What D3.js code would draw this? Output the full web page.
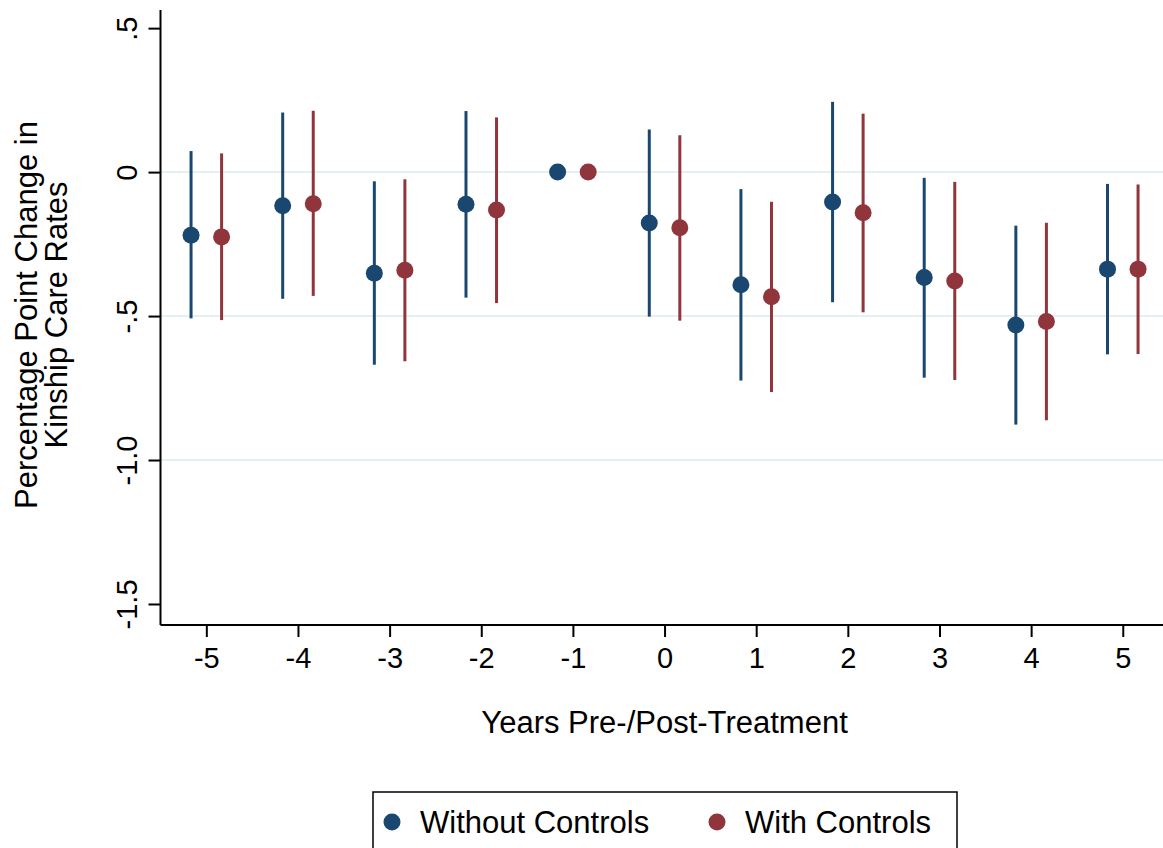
<!DOCTYPE html>
<html lang="en">
<head>
<meta charset="UTF-8">
<title>Kinship care event study</title>
<script src="https://d3js.org/d3.v7.min.js"></script>
<style>
  body {
    margin: 0;
    background: #fff;
  }
  svg text {
    font-family: "Liberation Sans", Arial, Helvetica, sans-serif;
    fill: #000;
  }
  .axis path, .axis line {
    stroke: #000;
    stroke-width: 2;
  }
</style>
</head>
<body>
<div id="chart"></div>

<script>
// ------ data ------
const years = [-5, -4, -3, -2, -1, 0, 1, 2, 3, 4, 5];
const seriesNames = ["Without Controls", "With Controls"];
const seriesColors = ["#1a476f", "#90353b"];

// without controls
const estNoCtrl = [-0.219, -0.117, -0.351, -0.112, 0, -0.177, -0.391, -0.104, -0.366, -0.531, -0.337];
const hiNoCtrl  = [0.073, 0.207, -0.032, 0.212, null, 0.148, -0.059, 0.244, -0.020, -0.186, -0.041];
const loNoCtrl  = [-0.508, -0.440, -0.669, -0.436, null, -0.502, -0.724, -0.452, -0.714, -0.877, -0.633];

// with controls
const estCtrl = [-0.225, -0.110, -0.341, -0.132, 0, -0.193, -0.433, -0.141, -0.378, -0.519, -0.337];
const hiCtrl  = [0.065, 0.213, -0.025, 0.190, null, 0.128, -0.103, 0.203, -0.034, -0.176, -0.043];
const loCtrl  = [-0.514, -0.430, -0.657, -0.455, null, -0.516, -0.764, -0.487, -0.722, -0.862, -0.632];

const yTickValues = [0.5, 0, -0.5, -1, -1.5];
const yTickLabels = [".5", "0", "-.5", "-1.0", "-1.5"];
const gridValues = [0, -0.5, -1];

const xTitle = "Years Pre-/Post-Treatment";
const yTitle = ["Percentage Point Change in", "Kinship Care Rates"];

// ------ chart ------
const width = 1163, height = 848;

const x = d3.scaleLinear().domain([-5.5, 5.5]).range([160.5, 1168.6]);
const y = d3.scaleLinear().domain([-1.573, 0.563]).range([625, 10]);
const offset = 1 / 6; // dodge between the two series

const svg = d3.select("#chart")
  .append("svg")
    .attr("width", width)
    .attr("height", height);

// gridlines
svg.append("g")
  .selectAll("line")
  .data(gridValues)
  .join("line")
    .attr("x1", x.range()[0])
    .attr("x2", x.range()[1])
    .attr("y1", d => y(d))
    .attr("y2", d => y(d))
    .attr("stroke", "#e6eff1")
    .attr("stroke-width", 2);

// series table built from the arrays
const series = [
  { name: seriesNames[0], color: seriesColors[0], shift: -offset,
    rows: years.map((yr, i) => ({ yr, est: estNoCtrl[i], lo: loNoCtrl[i], hi: hiNoCtrl[i] })) },
  { name: seriesNames[1], color: seriesColors[1], shift: offset,
    rows: years.map((yr, i) => ({ yr, est: estCtrl[i], lo: loCtrl[i], hi: hiCtrl[i] })) }
];

const g = svg.append("g")
  .selectAll("g")
  .data(series)
  .join("g");

g.selectAll("line")
  .data(s => s.rows.filter(r => r.lo !== null).map(r => ({ ...r, s })))
  .join("line")
    .attr("x1", d => x(d.yr + d.s.shift))
    .attr("x2", d => x(d.yr + d.s.shift))
    .attr("y1", d => y(d.lo))
    .attr("y2", d => y(d.hi))
    .attr("stroke", d => d.s.color)
    .attr("stroke-width", 3);

g.selectAll("circle")
  .data(s => s.rows.map(r => ({ ...r, s })))
  .join("circle")
    .attr("cx", d => x(d.yr + d.s.shift))
    .attr("cy", d => y(d.est))
    .attr("r", 8.5)
    .attr("fill", d => d.s.color);

// axes
const yAxis = svg.append("g")
  .attr("class", "axis")
  .attr("transform", `translate(${x.range()[0]},0)`)
  .call(d3.axisLeft(y)
    .tickValues(yTickValues)
    .tickFormat((d, i) => yTickLabels[i])
    .tickSize(12)
    .tickSizeOuter(0));

yAxis.selectAll("text")
  .attr("x", null)
  .attr("dy", null)
  .attr("text-anchor", "middle")
  .attr("transform", "translate(-24,0) rotate(-90)")
  .style("font-size", "29px");

const xAxis = svg.append("g")
  .attr("class", "axis")
  .attr("transform", `translate(0,${y.range()[0]})`)
  .call(d3.axisBottom(x)
    .tickValues(years)
    .tickFormat(d => String(d))   // plain hyphen, like the original
    .tickSize(12)
    .tickPadding(10)
    .tickSizeOuter(0));

xAxis.selectAll("text")
  .style("font-size", "29px");

xAxis.select(".domain").attr("d", `M${x.range()[0]},0H${x.range()[1]}`);
yAxis.select(".domain").attr("d", `M0,${y.range()[0]}V${y.range()[1]}`);

// titles
svg.append("text")
  .attr("x", (x.range()[0] + x.range()[1]) / 2)
  .attr("y", 733)
  .attr("text-anchor", "middle")
  .style("font-size", "31px")
  .text(xTitle);

svg.append("text")
  .attr("transform", "translate(37,315) rotate(-90)")
  .attr("text-anchor", "middle")
  .style("font-size", "31px")
  .selectAll("tspan")
  .data(yTitle)
  .join("tspan")
    .attr("x", 0)
    .attr("y", (d, i) => i * 30)
    .text(d => d);

// legend
const legend = svg.append("g");
legend.append("rect")
  .attr("x", 373)
  .attr("y", 792)
  .attr("width", 584)
  .attr("height", 70)
  .attr("fill", "#fff")
  .attr("stroke", "#000")
  .attr("stroke-width", 1.5);

const items = legend.selectAll("g")
  .data(series)
  .join("g")
    .attr("transform", (d, i) => `translate(${392 + i * 325},822)`);

items.append("circle")
  .attr("r", 8.5)
  .attr("fill", d => d.color);

items.append("text")
  .attr("x", 28)
  .attr("y", 11)
  .style("font-size", "31px")
  .text(d => d.name);
</script>
</body>
</html>
